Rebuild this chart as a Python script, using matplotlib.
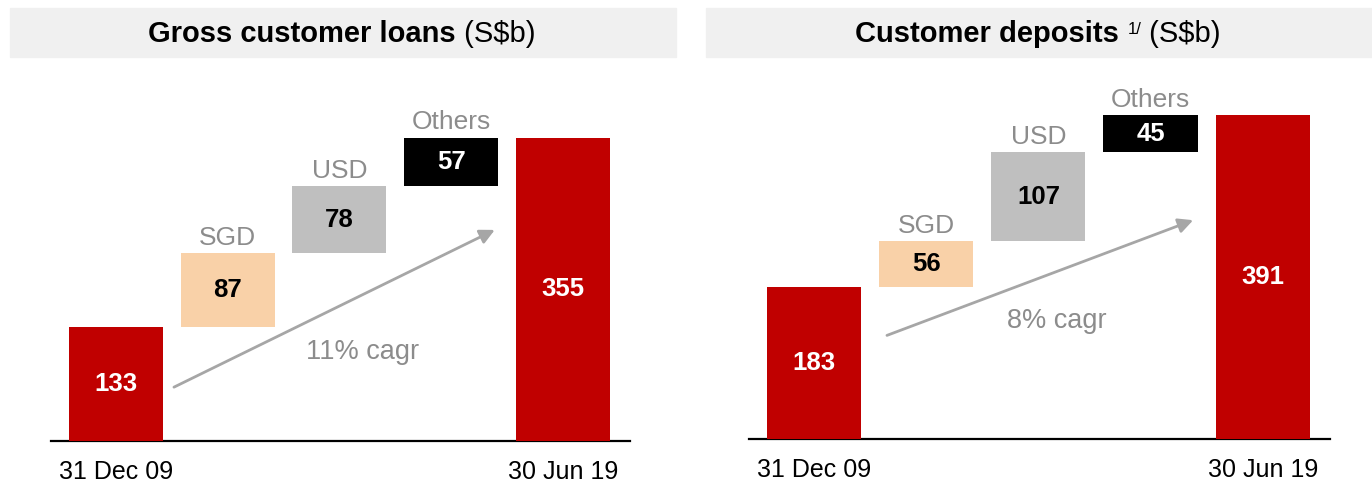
import matplotlib.pyplot as plt
from matplotlib.patches import Rectangle

plt.rcParams["font.family"] = ["Liberation Sans", "DejaVu Sans"]

W, H = 1372, 486

# data (S$b)
steps = ["SGD", "USD", "Others"]
dates = ["31 Dec 09", "30 Jun 19"]
loans_start = 133
loans_steps = [87, 78, 57]
loans_end = 355
deposits_start = 183
deposits_steps = [56, 107, 45]
deposits_end = 391

RED = "#C00000"
step_colors = ["#F9D1A8", "#BFBFBF", "#000000"]
step_text = ["black", "black", "white"]
GREY_TXT = "#8C8C8C"
ARROW = "#A6A6A6"


def px_box(x0, y0, x1, y1):
    return [x0 / W, 1 - y1 / H, (x1 - x0) / W, (y1 - y0) / H]


def waterfall(ax, start, deltas, end, ytop, cagr, arrow_from, arrow_to, cagr_xy):
    xs = list(range(len(deltas) + 2))
    heights = [start] + deltas + [end]
    bottoms = [0]
    run = start
    for d in deltas:
        bottoms.append(run)
        run += d
    bottoms.append(0)
    colors = [RED] + step_colors + [RED]
    tcolors = ["white"] + step_text + ["white"]
    ax.bar(xs, heights, bottom=bottoms, width=0.84, color=colors, zorder=2)
    for x, h, b, tc in zip(xs, heights, bottoms, tcolors):
        ax.text(x, b + h / 2, str(h), ha="center", va="center",
                fontsize=18.5, fontweight="bold", color=tc, zorder=3)
    for x, name, h, b in zip(xs[1:-1], steps, heights[1:-1], bottoms[1:-1]):
        ax.annotate(name, (x, b + h), xytext=(0, 11), textcoords="offset points",
                    ha="center", va="center", fontsize=19, color=GREY_TXT,
                    annotation_clip=False)
    ax.annotate("", xy=arrow_to, xytext=arrow_from,
                arrowprops=dict(arrowstyle="-|>", color=ARROW, lw=2,
                                mutation_scale=22, shrinkA=0, shrinkB=0))
    ax.text(cagr_xy[0], cagr_xy[1], cagr, ha="center", va="center",
            fontsize=19.5, color=GREY_TXT)
    ax.set_xlim(-0.58, 4.6)
    ax.set_ylim(0, ytop)
    ax.set_xticks([0, 4], dates)
    ax.tick_params(axis="x", length=0, labelsize=18, pad=14)
    ax.set_yticks([])
    for s in ["top", "left", "right"]:
        ax.spines[s].set_visible(False)
    ax.spines["bottom"].set_linewidth(1.6)
    ax.spines["bottom"].set_zorder(1)


def header(fig, parts, cx, cy):
    texts = []
    for s, weight, size, dy in parts:
        texts.append(fig.text(0, 0, s, fontsize=size, fontweight=weight,
                              ha="left", va="baseline"))
    fig.canvas.draw()
    r = fig.canvas.get_renderer()
    widths = [t.get_window_extent(r).width for t in texts]
    x = cx - sum(widths) / 2
    for t, w, (s, weight, size, dy) in zip(texts, widths, parts):
        t.set_position((x / W, 1 - (cy - dy) / H))
        x += w


fig = plt.figure(figsize=(W / 100, H / 100), dpi=100)

fig.patches.append(Rectangle((10 / W, 1 - 57 / H), 666 / W, 49 / H,
                             transform=fig.transFigure, color="#F0F0F0", zorder=0))
fig.patches.append(Rectangle((706 / W, 1 - 57 / H), 666 / W, 49 / H,
                             transform=fig.transFigure, color="#F0F0F0", zorder=0))

ax1 = fig.add_axes(px_box(51, 100, 630, 441))
ax2 = fig.add_axes(px_box(749, 100, 1330, 439))
ax1.patch.set_alpha(0)
ax2.patch.set_alpha(0)

waterfall(ax1, loans_start, loans_steps, loans_end, 399, "11% cagr",
          (0.52, 63), (3.39, 247), (2.21, 104))
waterfall(ax2, deposits_start, deposits_steps, deposits_end, 409, "8% cagr",
          (0.65, 125), (3.38, 264), (2.16, 142))

header(fig, [("Gross customer loans", "bold", 21, 0), (" (S$b)", "normal", 21, 0)], 342, 42)
header(fig, [("Customer deposits ", "bold", 21, 0), ("1/", "normal", 12, 8),
             (" (S$b)", "normal", 21, 0)], 1038, 42)

fig.savefig("out.png", dpi=100)
